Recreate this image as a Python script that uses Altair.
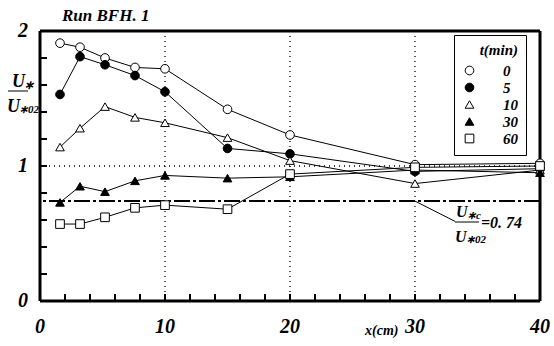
import altair as alt
import pandas as pd

# ---- data ----
x_pos = [1.6, 3.2, 5.2, 7.6, 10, 15, 20, 30, 40]
t_labels = ["0", "5", "10", "30", "60"]
u_t0 = [1.91, 1.88, 1.80, 1.73, 1.72, 1.42, 1.23, 1.01, 1.02]
u_t5 = [1.53, 1.81, 1.75, 1.67, 1.55, 1.13, 1.09, 0.96, 0.98]
u_t10 = [1.14, 1.28, 1.44, 1.36, 1.32, 1.21, 1.04, 0.87, 0.97]
u_t30 = [0.73, 0.85, 0.81, 0.89, 0.93, 0.91, 0.92, 0.97, 0.95]
u_t60 = [0.57, 0.57, 0.62, 0.69, 0.71, 0.68, 0.94, 0.99, 1.00]
critical = 0.74
leader_x = [30, 33.2]
leader_y = [0.74, 0.59]
x_tick_labels = [0, 10, 20, 30, 40]
y_tick_labels = [0, 1, 2]
x_grid = [10, 20, 30]
y_grid = [1]
x_ticks_minor = list(range(2, 40, 2))
y_ticks_minor = [0.2, 0.4, 0.6, 0.8, 1.0, 1.2, 1.4, 1.6, 1.8]

series = [u_t0, u_t5, u_t10, u_t30, u_t60]
rows = []
for lab, vals in zip(t_labels, series):
    for xv, yv in zip(x_pos, vals):
        rows.append({"x": xv, "u": yv, "t": lab})
df = pd.DataFrame(rows)

FONT = "Liberation Serif"
W, H = 500, 270

xs = alt.Scale(domain=[0, 40], nice=False)
ys = alt.Scale(domain=[0, 2], nice=False)


def X(f):
    return alt.X(f, type="quantitative", scale=xs, axis=None)


def Y(f):
    return alt.Y(f, type="quantitative", scale=ys, axis=None)


base = alt.Chart(df)

lines = base.mark_line(color="black", strokeWidth=1).encode(
    x=X("x"), y=Y("u"), detail="t:N", order="x:Q")

leg = alt.Legend(
    title="t(min)", orient="none", legendX=414, legendY=4,
    strokeColor="black", fillColor="white", padding=8,
    titleFont=FONT, titleFontSize=15, titleFontStyle="italic", titleFontWeight="bold",
    titleColor="black", titleAnchor="end",
    labelFont=FONT, labelFontSize=15, labelFontStyle="italic", labelFontWeight="bold",
    labelColor="black", labelOffset=26, symbolSize=75, symbolStrokeColor="black",
    symbolStrokeWidth=1, rowPadding=1,
)

points = base.mark_point(filled=True, strokeWidth=1, opacity=1, size=75).encode(
    x=X("x"), y=Y("u"),
    shape=alt.Shape("t:N", scale=alt.Scale(domain=t_labels,
                    range=["circle", "circle", "triangle-up", "triangle-up", "square"]),
                    legend=leg),
    fill=alt.Fill("t:N", scale=alt.Scale(domain=t_labels,
                  range=["white", "black", "white", "black", "white"]),
                  legend=leg),
    stroke=alt.Stroke("t:N", scale=alt.Scale(domain=t_labels,
                      range=["black", "black", "black", "black", "black"]),
                      legend=leg),
)

gx = alt.Chart(pd.DataFrame({"x": x_grid})).mark_rule(
    color="black", strokeWidth=1.3, strokeDash=[1, 4]).encode(x=X("x"))
gy = alt.Chart(pd.DataFrame({"y": y_grid})).mark_rule(
    color="black", strokeWidth=1.3, strokeDash=[1, 4]).encode(y=Y("y"))

crit = alt.Chart(pd.DataFrame({"c": [critical]})).mark_rule(
    color="black", strokeWidth=2, strokeDash=[16, 3, 3, 3]).encode(y=Y("c"))

leader = alt.Chart(pd.DataFrame({"x": leader_x, "y": leader_y})).mark_line(
    color="black", strokeWidth=1).encode(x=X("x"), y=Y("y"))

xt = alt.Chart(pd.DataFrame({"x": x_ticks_minor})).mark_rule(color="black", strokeWidth=2).encode(
    x=X("x"), y=alt.value(H), y2=alt.value(H - 7))
yt = alt.Chart(pd.DataFrame({"y": y_ticks_minor})).mark_rule(color="black", strokeWidth=2).encode(
    y=Y("y"), x=alt.value(0), x2=alt.value(7))

xl = alt.Chart(pd.DataFrame({"x": x_tick_labels})).mark_text(
    font=FONT, fontSize=20, fontStyle="italic", fontWeight="bold", color="black",
    align="center", baseline="middle").encode(x=X("x"), y=alt.value(H + 26), text="x:Q")
yl = alt.Chart(pd.DataFrame({"y": y_tick_labels})).mark_text(
    font=FONT, fontSize=20, fontStyle="italic", fontWeight="bold", color="black",
    align="right", baseline="middle").encode(y=Y("y"), x=alt.value(-12), text="y:Q")

one = pd.DataFrame({"k": [0]})


def frame(**enc):
    return alt.Chart(one).mark_rule(color="black", strokeWidth=3).encode(**enc)


frames = [
    frame(x=alt.value(0), y=alt.value(0), y2=alt.value(H)),
    frame(x=alt.value(W), y=alt.value(0), y2=alt.value(H)),
    frame(x=alt.value(0), x2=alt.value(W), y=alt.value(H)),
    frame(x=alt.value(0), x2=alt.value(W), y=alt.value(0)),
]


def txt(s, px, py, size, align="left"):
    return alt.Chart(one).mark_text(
        text=s, font=FONT, fontSize=size, fontStyle="italic", fontWeight="bold",
        align=align, baseline="alphabetic", color="black"
    ).encode(x=alt.value(px), y=alt.value(py))


def hline(x1, x2, yv):
    return alt.Chart(one).mark_rule(color="black", strokeWidth=1).encode(
        x=alt.value(x1), x2=alt.value(x2), y=alt.value(yv))


texts = [
    txt("Run  BFH. 1", 22, -10, 17),
    # y title fraction
    txt("U", -28, 56, 18),
    txt("∗", -16, 58, 12),
    hline(-32, -12, 60),
    txt("U", -33, 81, 18),
    txt("∗02", -21, 82, 11),
    # x title
    txt("x(cm)", 325, 304, 14),
    # critical annotation
    txt("U", 416, 186, 16),
    txt("∗c", 427, 188, 11),
    hline(415, 439, 191),
    txt("=0. 74", 441, 197, 16),
    txt("U", 415, 211, 16),
    txt("∗02", 426, 212, 11),
]

chart = alt.layer(
    gx, gy, lines, crit, leader, xt, yt, *frames, points, xl, yl, *texts
).properties(
    width=W, height=H,
    autosize=alt.AutoSizeParams(type="none"),
    padding={"left": 40, "top": 31, "right": 14, "bottom": 45},
).configure_view(
    stroke=None
).configure(background="white")

chart.save("out.html", embed_options={"renderer": "svg", "actions": False})
